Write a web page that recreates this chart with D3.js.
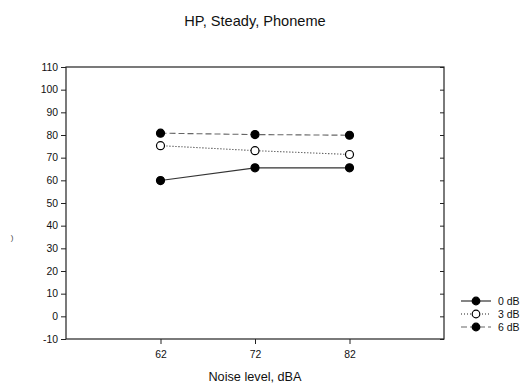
<!DOCTYPE html>
<html><head><meta charset="utf-8">
<script src="https://cdn.jsdelivr.net/npm/d3@7"></script>
<style>body{margin:0;background:#fff;} svg{display:block;font-family:"Liberation Sans",Arial,sans-serif;}</style>
</head><body>
<svg id="c" width="522" height="385"></svg>
<script>
const noiseLevels = [62, 72, 82];
const series0dB = [59.9, 65.5, 65.5];
const series3dB = [75.3, 73.1, 71.4];
const series6dB = [80.8, 80.2, 79.9];
const seriesNames = ["0 dB", "3 dB", "6 dB"];
const yTicks = [-10, 0, 10, 20, 30, 40, 50, 60, 70, 80, 90, 100, 110];
const xTicks = [62, 72, 82];

const svg = d3.select("#c");
const L = 66, R = 444, T = 67, B = 339;
const x = d3.scaleLinear().domain([52, 92]).range([L, R]);
const y = d3.scaleLinear().domain([-10, 110]).range([B, T]);

// frame
svg.append("rect").attr("x", L).attr("y", T).attr("width", R - L).attr("height", B - T)
  .attr("fill", "none").attr("stroke", "#222").attr("stroke-width", 1.2);

// left axis
const ya = svg.append("g").attr("transform", `translate(${L},0)`)
  .call(d3.axisLeft(y).tickValues(yTicks).tickSize(5).tickPadding(3).tickFormat(d => String(d)));
ya.select(".domain").remove();
ya.selectAll("line").attr("stroke", "#222");
ya.selectAll("text").attr("font-size", "10.4px").attr("fill", "#111").attr("font-family", "Liberation Sans, Arial, sans-serif");

// right ticks inward
const yr = svg.append("g").attr("transform", `translate(${R},0)`)
  .call(d3.axisLeft(y).tickValues(yTicks).tickSize(4).tickFormat(""));
yr.select(".domain").remove();
yr.selectAll("line").attr("stroke", "#222");

// bottom axis
const xa = svg.append("g").attr("transform", `translate(0,${B})`)
  .call(d3.axisBottom(x).tickValues(xTicks).tickSize(5).tickPadding(7));
xa.select(".domain").remove();
xa.selectAll("line").attr("stroke", "#222");
xa.selectAll("text").attr("font-size", "10.4px").attr("fill", "#111").attr("font-family", "Liberation Sans, Arial, sans-serif");

// titles
svg.append("text").attr("x", 255).attr("y", 26).attr("text-anchor", "middle")
  .attr("font-size", "14.6px").attr("fill", "#111").text("HP, Steady, Phoneme");
svg.append("text").attr("x", 255).attr("y", 381).attr("text-anchor", "middle")
  .attr("font-size", "12.7px").attr("fill", "#111").text("Noise level, dBA");
svg.append("text").attr("x", 12).attr("y", 240).attr("text-anchor", "middle")
  .attr("font-size", "8px").attr("fill", "#444").text(")");

const styles = [
  {data: series0dB, stroke: "#333", dash: null, fill: "#000"},
  {data: series3dB, stroke: "#222", dash: "1,2", fill: "#fff"},
  {data: series6dB, stroke: "#666", dash: "6,3", fill: "#000"}
];
const line = d3.line().x((d, i) => x(noiseLevels[i])).y(d => y(d));

styles.forEach(s => {
  svg.append("path").datum(s.data).attr("d", line).attr("fill", "none")
    .attr("stroke", s.stroke).attr("stroke-width", 1.1)
    .attr("stroke-dasharray", s.dash);
});
styles.forEach(s => {
  svg.selectAll(null).data(s.data).enter().append("circle")
    .attr("cx", (d, i) => x(noiseLevels[i])).attr("cy", d => y(d)).attr("r", 4)
    .attr("fill", s.fill).attr("stroke", "#000").attr("stroke-width", 1.2);
});

// legend
const lg = svg.append("g");
styles.forEach((s, i) => {
  const ly = 301 + i * 13;
  lg.append("line").attr("x1", 461).attr("x2", 491).attr("y1", ly).attr("y2", ly)
    .attr("stroke", s.stroke).attr("stroke-width", 1.2).attr("stroke-dasharray", s.dash);
  lg.append("circle").attr("cx", 476).attr("cy", ly).attr("r", 3.8)
    .attr("fill", s.fill).attr("stroke", "#000").attr("stroke-width", 1.2);
  lg.append("text").attr("x", 498).attr("y", ly + 3.8).attr("font-size", "10.5px")
    .attr("fill", "#111").text(seriesNames[i]);
});
</script>
</body></html>
